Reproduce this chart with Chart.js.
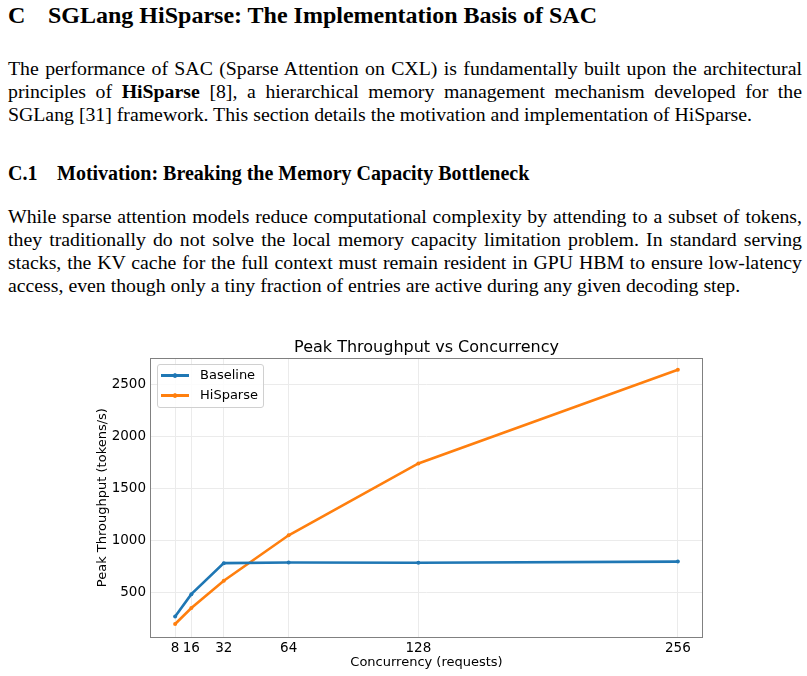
<!DOCTYPE html>
<html>
<head>
<meta charset="utf-8">
<script src="https://cdn.jsdelivr.net/npm/chart.js@4/dist/chart.umd.min.js"></script>
<style>
  body { margin: 0; width: 807px; height: 676px; position: relative; overflow: hidden; background: #fff; color: #000; font-family: "Liberation Serif", "Times New Roman", serif; }
  .abs { position: absolute; white-space: nowrap; }
  .h1 { top: 1px; font-size: 24px; line-height: 28px; font-weight: bold; }
  .h2 { top: 162px; font-size: 20px; line-height: 22px; font-weight: bold; }
  .para { position: absolute; left: 8px; width: 794px; font-size: 19.8px; line-height: 23px; }
  .para .j { text-align: justify; text-align-last: justify; }
  #wrap { position: absolute; left: 0; top: 330px; width: 807px; height: 346px; }
  #legend { position: absolute; left: 157px; top: 364px; width: 105px; height: 42px; border: 1px solid #d0d0d0; border-radius: 3px; background: rgba(255,255,255,0.85); font-family: "DejaVu Sans", sans-serif; font-size: 13px; }
  #legend .item { position: absolute; left: 3px; height: 16px; line-height: 16px; }
  #legend .swatch { position: absolute; left: 0; top: 7px; width: 28px; height: 3px; }
  #legend .dot { position: absolute; left: 12px; top: 6px; width: 4px; height: 5px; border-radius: 50%; }
  #legend .lbl { position: absolute; left: 39px; top: 0; }
</style>
</head>
<body>
<div class="abs h1" style="left:8px">C</div>
<div class="abs h1" style="left:48px">SGLang HiSparse: The Implementation Basis of SAC</div>

<div class="para" style="top:57px">
  <div class="j">The performance of SAC (Sparse Attention on CXL) is fundamentally built upon the architectural</div>
  <div class="j">principles of <b>HiSparse</b> [8], a hierarchical memory management mechanism developed for the</div>
  <div>SGLang [31] framework. This section details the motivation and implementation of HiSparse.</div>
</div>

<div class="abs h2" style="left:8px">C.1</div>
<div class="abs h2" style="left:57px">Motivation: Breaking the Memory Capacity Bottleneck</div>

<div class="para" style="top:205px">
  <div class="j">While sparse attention models reduce computational complexity by attending to a subset of tokens,</div>
  <div class="j">they traditionally do not solve the local memory capacity limitation problem. In standard serving</div>
  <div class="j">stacks, the KV cache for the full context must remain resident in GPU HBM to ensure low-latency</div>
  <div>access, even though only a tiny fraction of entries are active during any given decoding step.</div>
</div>

<div id="wrap"><canvas id="throughputChart" width="807" height="346"></canvas></div>
<div id="legend"></div>

<script>
// concurrency levels (requests)
const concurrency = [8, 16, 32, 64, 128, 256];
// peak throughput (tokens/s)
const baseline = [265, 480, 779, 785, 783, 794];
const hisparse = [192, 346, 609, 1048, 1740, 2644];
const xTicks = [8, 16, 32, 64, 128, 256];
const yTicks = [500, 1000, 1500, 2000, 2500];

Chart.defaults.font.family = 'DejaVu Sans';
Chart.defaults.color = '#000';

// matplotlib-style box round the plot area
const frame = {
    id: 'frame',
    afterDraw(chart) {
        const { ctx, chartArea: a } = chart;
        ctx.save();
        ctx.strokeStyle = '#808080';
        ctx.lineWidth = 1;
        ctx.strokeRect(Math.round(a.left) + 0.5, Math.round(a.top) + 0.5, Math.round(a.width) - 1, Math.round(a.height));
        ctx.restore();
    }
};

const toPoints = (ys) => concurrency.map((x, i) => ({ x: x, y: ys[i] }));

const ctx = document.getElementById('throughputChart').getContext('2d');
const throughputChart = new Chart(ctx, {
    type: 'line',
    data: {
        datasets: [
            {
                label: 'Baseline',
                data: toPoints(baseline),
                borderColor: '#1f77b4',
                backgroundColor: '#1f77b4',
                borderWidth: 2.6,
                pointRadius: 2,
                pointBorderWidth: 0,
                tension: 0
            },
            {
                label: 'HiSparse',
                data: toPoints(hisparse),
                borderColor: '#ff7f0e',
                backgroundColor: '#ff7f0e',
                borderWidth: 2.6,
                pointRadius: 2,
                pointBorderWidth: 0,
                tension: 0
            }
        ]
    },
    options: {
        responsive: false,
        animation: false,
        layout: { padding: { left: 91, right: 104, top: 8, bottom: 2 } },
        scales: {
            x: {
                type: 'linear',
                min: -4.4,
                max: 268.4,
                afterBuildTicks: (axis) => { axis.ticks = xTicks.map(v => ({ value: v })); },
                afterFit: (axis) => { axis.height = 37; },
                ticks: {
                    autoSkip: false,
                    maxRotation: 0,
                    padding: 3,
                    font: { size: 13.5 },
                    callback: (v) => String(v)
                },
                grid: { color: '#ebebeb', drawTicks: false },
                border: { display: false },
                title: {
                    display: true,
                    text: 'Concurrency (requests)',
                    font: { size: 13 },
                    padding: { top: 4, bottom: 4 }
                }
            },
            y: {
                min: 67,
                max: 2755,
                afterBuildTicks: (axis) => { axis.ticks = yTicks.map(v => ({ value: v })); },
                afterFit: (axis) => { axis.width = 59; },
                ticks: {
                    padding: 4,
                    font: { size: 13.5 },
                    callback: (v) => String(v)
                },
                grid: { color: '#ebebeb', drawTicks: false },
                border: { display: false },
                title: {
                    display: true,
                    text: 'Peak Throughput (tokens/s)',
                    font: { size: 13 },
                    padding: { top: 4, bottom: 4 }
                }
            }
        },
        plugins: {
            legend: { display: false },
            tooltip: { enabled: false },
            title: {
                display: true,
                fullSize: false,
                text: 'Peak Throughput vs Concurrency',
                font: { size: 16, weight: 'normal' },
                padding: { top: 0, bottom: 1 }
            }
        }
    },
    plugins: [frame]
});

// legend box in the upper left, built from the datasets
const legendEl = document.getElementById('legend');
throughputChart.data.datasets.forEach((ds, i) => {
    const item = document.createElement('div');
    item.className = 'item';
    item.style.top = (2 + i * 20) + 'px';
    item.innerHTML = '<span class="swatch" style="background:' + ds.borderColor + '"></span>' +
        '<span class="dot" style="background:' + ds.borderColor + '"></span>' +
        '<span class="lbl">' + ds.label + '</span>';
    legendEl.appendChild(item);
});
</script>
</body>
</html>
